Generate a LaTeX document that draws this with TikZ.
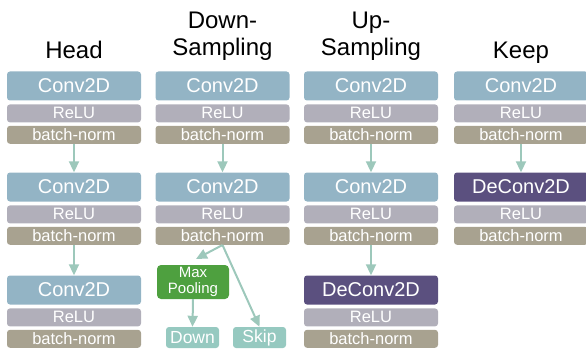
\documentclass[tikz,border=0pt]{standalone}
\usepackage{fontspec}
\setmainfont{Liberation Sans}
\usepackage{xcolor}
\usepackage{tikz}
\usetikzlibrary{arrows.meta,positioning}

\definecolor{convblue}{HTML}{93B4C5}
\definecolor{deconvpurple}{HTML}{5B507F}
\definecolor{relugray}{HTML}{B1AFBA}
\definecolor{bnkhaki}{HTML}{A8A290}
\definecolor{poolgreen}{HTML}{4EA03F}
\definecolor{outteal}{HTML}{96C9C0}
\definecolor{arrowteal}{HTML}{9DC8BB}

\begin{document}
\begin{tikzpicture}[
    x=1pt, y=-1pt,
    layerbox/.style={text=white, rounded corners=3pt, minimum width=134pt, inner sep=0pt},
    conv/.style={layerbox, fill=convblue, minimum height=29pt, font=\fontsize{20}{22}\selectfont},
    deconv/.style={conv, fill=deconvpurple},
    relu/.style={layerbox, fill=relugray, minimum height=18pt, font=\fontsize{16.5}{18}\selectfont},
    bnorm/.style={layerbox, fill=bnkhaki, minimum height=18pt, font=\fontsize{16.5}{18}\selectfont},
    poolbox/.style={fill=poolgreen, text=white, rounded corners=4pt, minimum width=72pt, minimum height=34pt, inner sep=0pt, align=center, font=\fontsize{15}{16.5}\selectfont},
    outbox/.style={fill=outteal, text=white, rounded corners=3pt, minimum width=53pt, minimum height=21pt, inner sep=0pt, font=\fontsize{17.5}{18}\selectfont},
    title/.style={align=center, anchor=south, inner sep=0pt, text depth=0pt, font=\fontsize{24}{27}\selectfont},
    arrow/.style={-{Triangle[length=11pt, width=10pt]}, line width=2pt, draw=arrowteal}
]
    \useasboundingbox (0,0) rectangle (586,350);

    % Titles
    \node[title] (headtitle) at (74,59) {Head};
    \node[title] (downtitle) at (222.5,56) {Down-\\Sampling};
    \node[title] (uptitle) at (371,56) {Up-\\Sampling};
    \node[title] (keeptitle) at (521,59) {Keep};

    % Head
    \node[conv] (headA) at (74,86) {Conv2D};
    \node[relu, below=3.5pt of headA] (headreluA) {ReLU};
    \node[bnorm, below=3pt of headreluA] (headbnA) {batch-norm};
    \node[conv] (headB) at (74,187) {Conv2D};
    \node[relu, below=3.5pt of headB] (headreluB) {ReLU};
    \node[bnorm, below=3pt of headreluB] (headbnB) {batch-norm};
    \node[conv] (headC) at (74,290) {Conv2D};
    \node[relu, below=3.5pt of headC] (headreluC) {ReLU};
    \node[bnorm, below=3pt of headreluC] (headbnC) {batch-norm};

    % Down-Sampling
    \node[conv] (downA) at (222.5,86) {Conv2D};
    \node[relu, below=3.5pt of downA] (downreluA) {ReLU};
    \node[bnorm, below=3pt of downreluA] (downbnA) {batch-norm};
    \node[conv] (downB) at (222.5,187) {Conv2D};
    \node[relu, below=3.5pt of downB] (downreluB) {ReLU};
    \node[bnorm, below=3pt of downreluB] (downbnB) {batch-norm};
    \node[poolbox] (pool) at (193,282) {Max\\Pooling};
    \node[outbox] (down) at (192.5,337.5) {Down};
    \node[outbox] (skip) at (259.5,337.5) {Skip};
    \coordinate (pooltip) at (196,259);

    % Up-Sampling
    \node[conv] (upA) at (371,86) {Conv2D};
    \node[relu, below=3.5pt of upA] (upreluA) {ReLU};
    \node[bnorm, below=3pt of upreluA] (upbnA) {batch-norm};
    \node[conv] (upB) at (371,187) {Conv2D};
    \node[relu, below=3.5pt of upB] (upreluB) {ReLU};
    \node[bnorm, below=3pt of upreluB] (upbnB) {batch-norm};
    \node[deconv] (upC) at (371,290) {DeConv2D};
    \node[relu, below=3.5pt of upC] (upreluC) {ReLU};
    \node[bnorm, below=3pt of upreluC] (upbnC) {batch-norm};

    % Keep
    \node[conv] (keepA) at (521,86) {Conv2D};
    \node[relu, below=3.5pt of keepA] (keepreluA) {ReLU};
    \node[bnorm, below=3pt of keepreluA] (keepbnA) {batch-norm};
    \node[deconv] (keepB) at (521,187) {DeConv2D};
    \node[relu, below=3.5pt of keepB] (keepreluB) {ReLU};
    \node[bnorm, below=3pt of keepreluB] (keepbnB) {batch-norm};

    % Connections
    \draw[arrow] (headbnA) -- (headB);
    \draw[arrow] (headbnB) -- (headC);
    \draw[arrow] (downbnA) -- (downB);
    \draw[arrow] (downbnB.south) -- (pooltip);
    \draw[arrow] (downbnB.south) -- (skip.north);
    \draw[arrow] (pool.south) -- (down.north);
    \draw[arrow] (upbnA) -- (upB);
    \draw[arrow] (upbnB) -- (upC);
    \draw[arrow] (keepbnA) -- (keepB);

\end{tikzpicture}
\end{document}
